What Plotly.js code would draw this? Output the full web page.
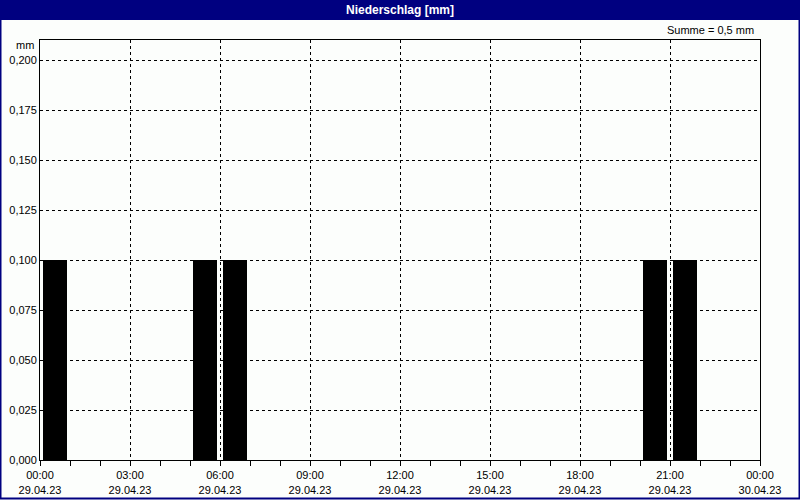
<!DOCTYPE html>
<html><head><meta charset="utf-8">
<script src="https://cdn.plot.ly/plotly-3.0.1.min.js"></script>
<style>html,body{margin:0;padding:0;background:#fcfefc;}#chart{width:800px;height:500px;}</style>
</head><body><div id="chart"></div>
<script>
// hourly precipitation (mm), bars centred in each hour
const hours = ['2023-04-29 00:30','2023-04-29 01:30','2023-04-29 02:30','2023-04-29 03:30','2023-04-29 04:30','2023-04-29 05:30','2023-04-29 06:30','2023-04-29 07:30','2023-04-29 08:30','2023-04-29 09:30','2023-04-29 10:30','2023-04-29 11:30','2023-04-29 12:30','2023-04-29 13:30','2023-04-29 14:30','2023-04-29 15:30','2023-04-29 16:30','2023-04-29 17:30','2023-04-29 18:30','2023-04-29 19:30','2023-04-29 20:30','2023-04-29 21:30','2023-04-29 22:30','2023-04-29 23:30'];
const precip = [0.1,0,0,0,0,0.1,0.1,0,0,0,0,0,0,0,0,0,0,0,0,0,0.1,0.1,0,0];
const titleText = 'Niederschlag [mm]';
const sumText = 'Summe = 0,5 mm';
const unitText = 'mm';

const fnt = {family:'"Liberation Sans Narrow", "Liberation Sans", sans-serif', size:11, color:'#000'};
const W = 720, H = 420, L = 40, T = 40;
const px = v => (v - L) / W;
const py = v => (T + H - v) / H;

const trace = {
  type:'bar', x: hours, y: precip, width: 0.8*3600000,
  marker:{color:'#000000', line:{width:0}}, hoverinfo:'x+y'
};
const layout = {
  width:800, height:500,
  margin:{l:L, r:40, t:T, b:40},
  paper_bgcolor:'#fcfefc', plot_bgcolor:'#fcfefc',
  separators:',.',
  font: fnt,
  showlegend:false,
  title:{text:'<b>'+titleText+'</b>', font:{family:fnt.family, size:12, color:'#ffffff'}, x:0.5, xanchor:'center', y:1-10/500, yanchor:'middle', yref:'container'},
  xaxis:{
    type:'date', range:['2023-04-29 00:00','2023-04-30 00:00'],
    dtick:3*3600000, tick0:'2023-04-29 00:00', tickformat:'%H:%M<br>%d.%m.%y',
    ticks:'outside', ticklen:5, tickcolor:'#000', tickwidth:1,
    showgrid:true, gridcolor:'#000', griddash:'3px,3px', gridwidth:1,
    showline:true, linecolor:'#000', linewidth:1, mirror:true,
    minor:{dtick:3600000, tick0:'2023-04-29 00:00', ticks:'outside', ticklen:5, tickcolor:'#000', showgrid:false},
    zeroline:false, fixedrange:true, tickfont:fnt
  },
  yaxis:{
    range:[0,0.21], dtick:0.025, tick0:0, tickformat:'.3f',
    showgrid:true, gridcolor:'#000', griddash:'3px,3px', gridwidth:1,
    showline:true, linecolor:'#000', linewidth:1, mirror:true,
    ticks:'', zeroline:false, fixedrange:true, tickfont:fnt
  },
  shapes:[
    {type:'rect', xref:'paper', yref:'paper', x0:px(0), x1:px(800), y0:py(0), y1:py(20), fillcolor:'#000080', line:{width:0}, layer:'below'},
    {type:'rect', xref:'paper', yref:'paper', x0:px(0.5), x1:px(799.5), y0:py(0.5), y1:py(498.5), fillcolor:'rgba(0,0,0,0)', line:{color:'#000080', width:2}}
  ],
  annotations:[
    {text:sumText, xref:'paper', yref:'paper', x:px(756), y:py(30), xanchor:'right', yanchor:'middle', showarrow:false, font:fnt},
    {text:unitText, xref:'paper', yref:'paper', x:px(36), y:py(45), xanchor:'right', yanchor:'middle', showarrow:false, font:fnt}
  ]
};
Plotly.newPlot('chart',[trace],layout,{displayModeBar:false, staticPlot:true});
</script></body></html>
